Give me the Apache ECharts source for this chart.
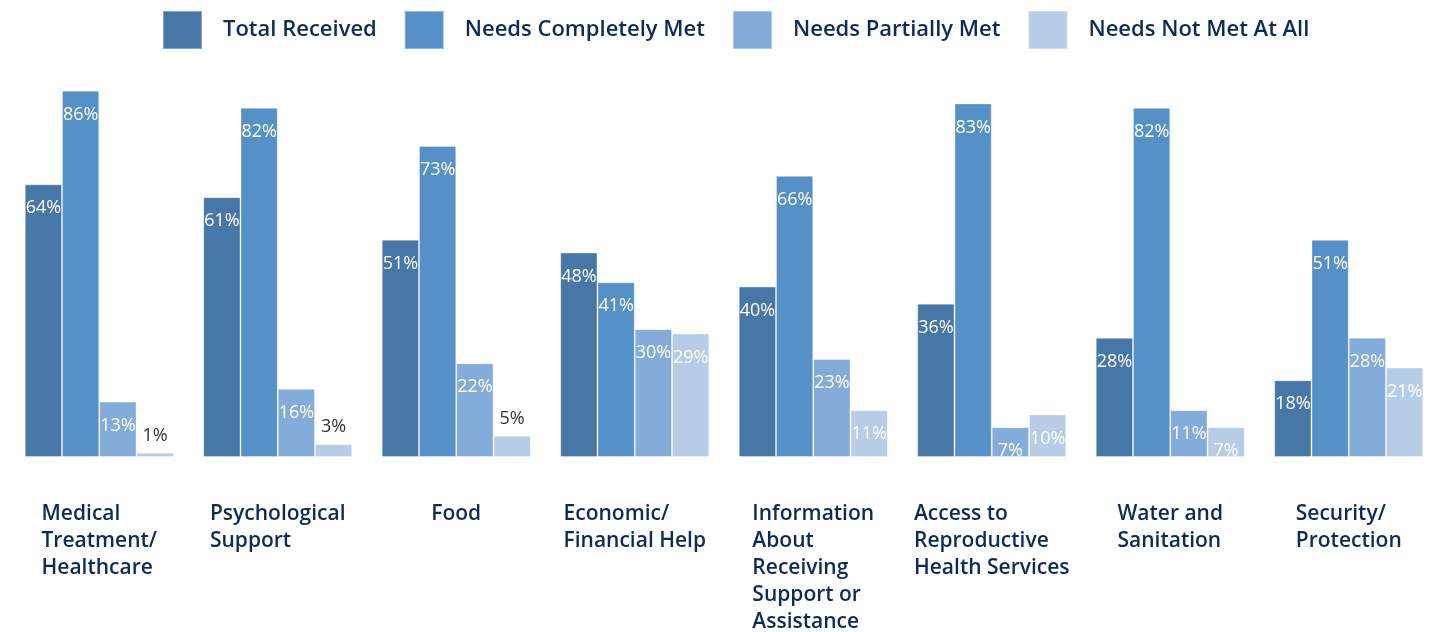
<!DOCTYPE html>
<html>
<head>
<meta charset="utf-8">
<script src="https://cdn.jsdelivr.net/npm/echarts@6/dist/echarts.min.js"></script>
<style>html,body{margin:0;padding:0;background:#fff}#c{width:1439px;height:632px}</style>
</head>
<body>
<div id="c"></div>
<script>
const categories = [
  'Medical\nTreatment/\nHealthcare',
  'Psychological\nSupport',
  'Food',
  'Economic/\nFinancial Help',
  'Information\nAbout\nReceiving\nSupport or\nAssistance',
  'Access to\nReproductive\nHealth Services',
  'Water and\nSanitation',
  'Security/\nProtection'
];
const seriesNames = ['Total Received', 'Needs Completely Met', 'Needs Partially Met', 'Needs Not Met At All'];
const totalReceived   = [64, 61, 51, 48, 40, 36, 28, 18];
const completelyMet   = [86, 82, 73, 41, 66, 83, 82, 51];
const partiallyMet    = [13, 16, 22, 30, 23, 7, 11, 28];
const notMetAtAll     = [1, 3, 5, 29, 11, 10, 7, 21];
const colors = ['#4677a7', '#5591c7', '#83acda', '#b7cce7'];

const allData = [totalReceived, completelyMet, partiallyMet, notMetAtAll];
const FONT = '"Open Sans", Roboto, sans-serif';

function mkData(arr) {
  return arr.map(v => v < 6
    ? { value: v, label: { position: 'top', color: '#333333', distance: 8 } }
    : v);
}

const chart = echarts.init(document.getElementById('c'), null, { renderer: 'canvas' });
chart.setOption({
  animation: false,
  color: colors,
  legend: {
    top: 5,
    left: 157,
    itemWidth: 39,
    itemHeight: 38,
    itemGap: 27,
    icon: 'rect',
    textStyle: { fontFamily: FONT, fontSize: 22, fontWeight: 600, color: '#0d2b5a', padding: [4, 0, 0, 16] },
    data: seriesNames
  },
  grid: { left: 10, right: 1, top: 31, bottom: 175, containLabel: false, outerBoundsMode: 'none' },
  xAxis: {
    type: 'category',
    data: categories,
    axisLine: { show: false },
    axisTick: { show: false },
    axisLabel: {
      interval: 0,
      margin: 44,
      color: '#0d2b5a',
      fontFamily: FONT,
      fontSize: 21,
      fontWeight: 600,
      lineHeight: 27,
      align: 'center',
      formatter: function (v) { return '{l|' + v.split('\n').join('}\n{l|') + '}'; },
      rich: { l: { align: 'left', fontFamily: FONT, fontSize: 21, fontWeight: 600, lineHeight: 27, color: '#0d2b5a' } }
    }
  },
  yAxis: {
    type: 'value', min: 0, max: 100, show: false,
    splitLine: { show: false }
  },
  series: seriesNames.map((name, i) => ({
    name: name,
    type: 'bar',
    data: mkData(allData[i]),
    barGap: '0%',
    barCategoryGap: '16.5%',
    itemStyle: { color: colors[i], borderColor: 'rgba(255,255,255,0.35)', borderWidth: 1 },
    label: {
      show: true,
      position: 'insideTop',
      distance: 15,
      color: '#ffffff',
      fontFamily: FONT,
      fontSize: 18,
      formatter: '{c}%'
    }
  }))
});
</script>
</body>
</html>
